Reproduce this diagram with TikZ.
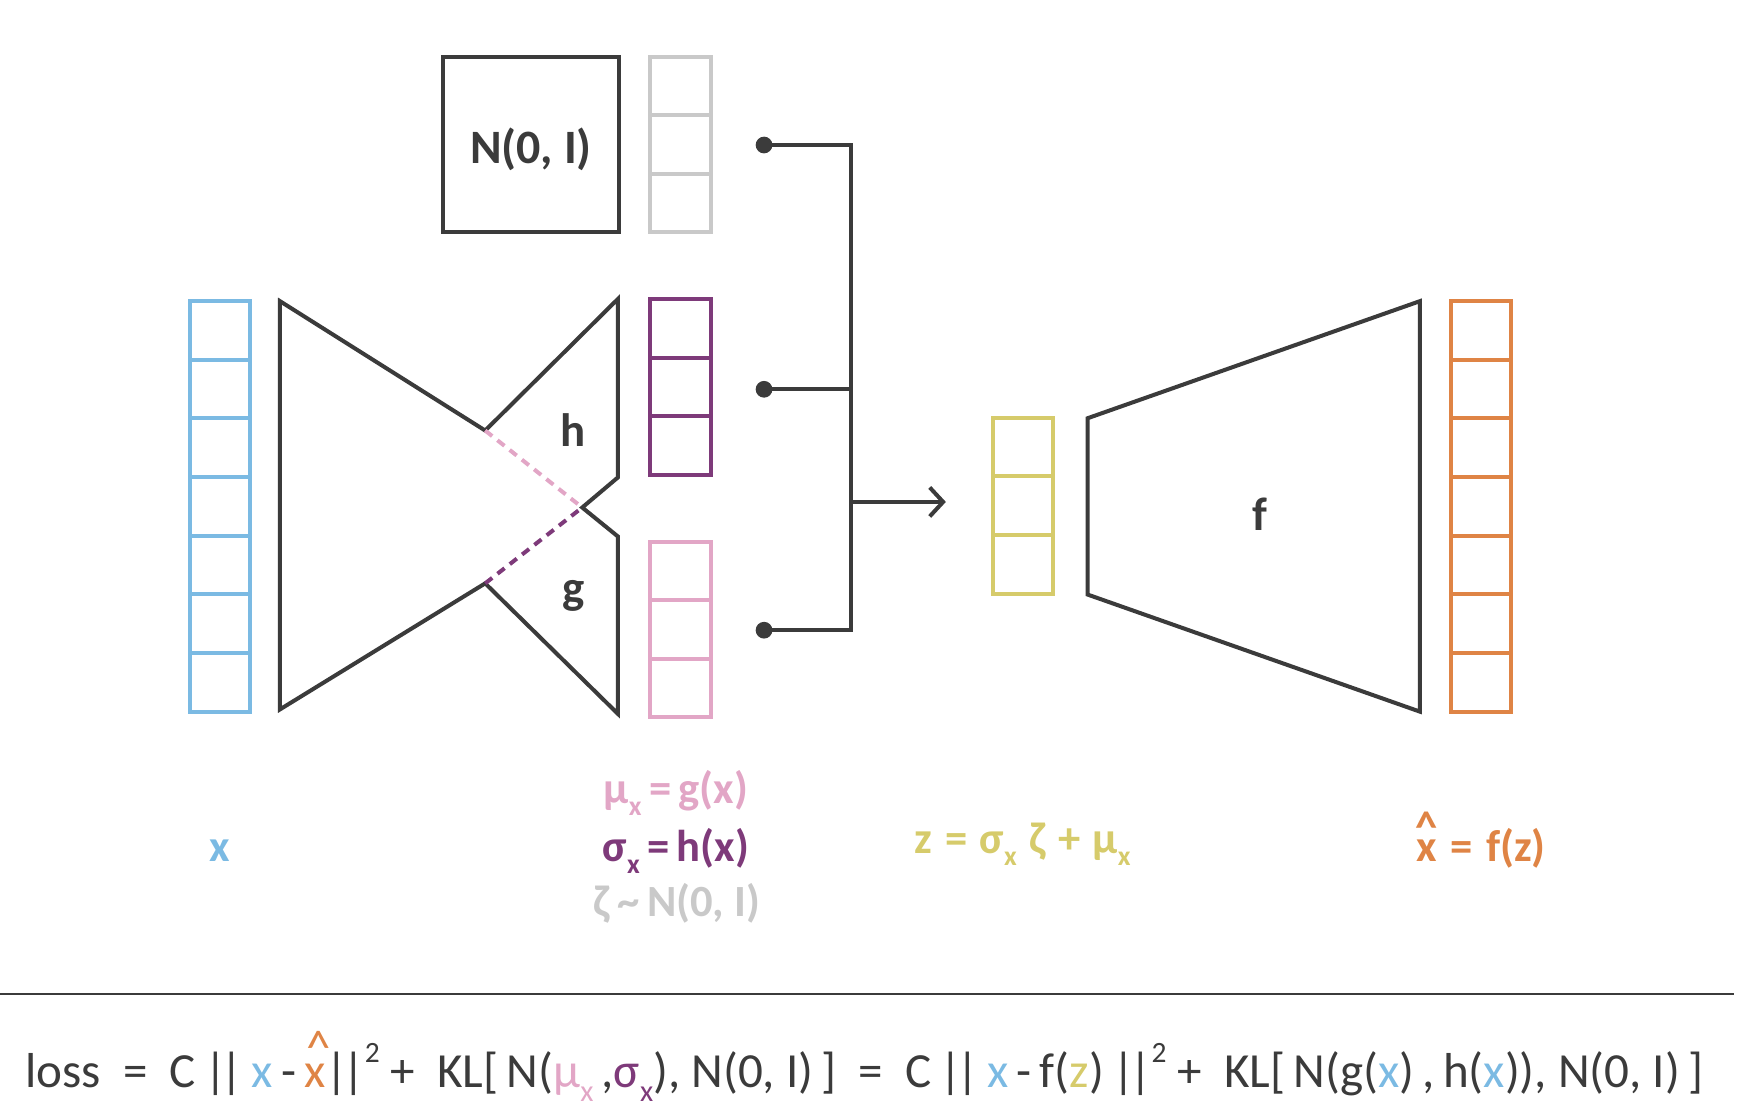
\documentclass[tikz,border=0pt]{standalone}
\usepackage{fontspec}
\setmainfont{Carlito}
\usetikzlibrary{arrows.meta,calc}
\definecolor{cdark}{HTML}{3B3B3B}
\definecolor{cblue}{HTML}{7BBAE3}
\definecolor{cpurple}{HTML}{7E3A7A}
\definecolor{cpink}{HTML}{E2A6C6}
\definecolor{cgray}{HTML}{C9C9C9}
\definecolor{cyellow}{HTML}{D6CB6B}
\definecolor{corange}{HTML}{DF8445}
\newcommand\subx{\raisebox{-0.28em}{\scalebox{0.62}{x}}}
\newcommand\xhat{\ooalign{x\cr\hidewidth\raisebox{0.42em}{\textasciicircum}\hidewidth\cr}}
\newcommand\xhatL{\ooalign{x\cr\hidewidth\kern0.15em\raisebox{0.47em}{\textasciicircum}\hidewidth\cr}}
\newcommand\sqr{\raisebox{0.5em}{\scalebox{0.6}{2}}}
\newcommand\dbar{|\kern-0.12em|}
\newcommand\celllines[4]{%
  \foreach \k in {1,...,#2}{%
    \draw[draw=#4, line width=3.6pt]
      ($(#1.north west)!\k/#3!(#1.south west)$) -- ($(#1.north east)!\k/#3!(#1.south east)$);}}
\begin{document}
\begin{tikzpicture}[x=1pt,y=-1pt,
  shape line/.style={draw=cdark, line width=3.6pt, line join=miter},
  conn/.style={draw=cdark, line width=3.6pt},
  col/.style={rectangle, line width=3.6pt, minimum width=54pt, inner sep=0pt, outer sep=0pt},
  lab/.style={font=\fontsize{40}{44}\selectfont\bfseries, inner sep=0pt, anchor=base},
  inlab/.style={font=\fontsize{42}{46}\selectfont\bfseries, text=cdark, inner sep=0pt, anchor=base},
  dot/.style={fill=cdark}]
\useasboundingbox (0,0) rectangle (1560,1002.3);

% columns of cells
\node[col, draw=cblue,   minimum height=368pt] (xcol)   at (197.5,454) {};
\node[col, draw=cgray,   minimum height=157pt] (ncol)   at (610,129.5) {};
\node[col, draw=cpurple, minimum height=158pt] (sigcol) at (610,347) {};
\node[col, draw=cpink,   minimum height=157pt] (mucol)  at (610,564.5) {};
\node[col, draw=cyellow, minimum height=158pt] (zcol)   at (917,453.5) {};
\node[col, draw=corange, minimum height=368pt] (xhcol)  at (1328,454) {};
\celllines{xcol}{6}{7}{cblue}
\celllines{ncol}{2}{3}{cgray}
\celllines{sigcol}{2}{3}{cpurple}
\celllines{mucol}{2}{3}{cpink}
\celllines{zcol}{2}{3}{cyellow}
\celllines{xhcol}{6}{7}{corange}

% N(0,I) box
\node[draw=cdark, line width=3.6pt, minimum width=158pt, minimum height=157pt, inner sep=0pt,
      text height=36pt, text depth=1.8pt,
      font=\fontsize{43}{46}\selectfont\bfseries, text=cdark] (nbox) at (476,129.5) {N(0, I)};

% encoder
\coordinate (ein1) at (435,386);
\coordinate (notch) at (522,455);
\coordinate (ein2) at (435,523);
\draw[shape line] (251,270) -- (ein1) -- (554,268) -- (554,428) -- (notch) -- (554,481)
   -- (554,640) -- (ein2) -- (251,636) -- cycle;
\draw[draw=cpink, line width=3.6pt, dash pattern=on 8pt off 6pt] (ein1) -- (notch);
\draw[draw=cpurple, line width=3.6pt, dash pattern=on 8pt off 6pt] (ein2) -- (notch);
\node[inlab] (hlab) at (514,400.5) {h};
\node[inlab] (glab) at (514,541) {g};

% decoder
\draw[shape line] (975,375) -- (1273,270) -- (1273,638) -- (975,533) -- cycle;
\node[inlab] (flab) at (1130,475.6) {f};

% connectors
\coordinate (d1) at (685,130);
\coordinate (d2) at (685,349);
\coordinate (d3) at (685,565);
\coordinate (j1) at (763,130);
\coordinate (j2) at (763,349);
\coordinate (j3) at (763,565);
\coordinate (ja) at (763,450);
\coordinate (za) at (848,450);
\draw[conn] (d1) -- (j1) -- (j3) -- (d3);
\draw[conn] (d2) -- (j2);
\draw[conn, -{Straight Barb[length=12pt,width=26pt,line width=3.6pt]}] (ja) -- (za);
\fill[dot] (d1) circle[radius=7.5];
\fill[dot] (d2) circle[radius=7.5];
\fill[dot] (d3) circle[radius=7.5];

% labels
\node[lab, text=cpink]   (mulab)   at (606,720) {μ\subx\,=\,g(x)};
\node[lab, text=cpurple] (siglab)  at (606,772) {σ\subx\,=\,h(x)};
\node[lab, text=cgray]   (zetalab) at (607,822) {ζ\,\textasciitilde\,N(0, I)};
\node[lab, text=cyellow] (zlab)    at (917,765) {z\hspace{0.28em}=\hspace{0.28em}σ\subx\hspace{0.28em}ζ\hspace{0.28em}+\hspace{0.28em}μ\subx};
\node[lab, text=cblue]   (xlab)    at (197,772) {x};
\node[lab, text=corange] (xhlab)   at (1328,772) {\xhat\hspace{0.3em}=\hspace{0.3em}f(z)};

% rule
\coordinate (r1) at (0,891);
\coordinate (r2) at (1555,891);
\draw[draw=cdark, line width=2pt] (r1) -- (r2);

% loss
\node[font=\fontsize{44}{48}\selectfont, text=cdark, anchor=base, inner sep=0pt] (loss) at (775,975)
{loss\ \ =\ \ C\,\dbar\,\textcolor{cblue}{x}\,-\,\textcolor{corange}{\xhatL}\dbar\sqr\ +\ \ KL[\,N(\textcolor{cpink}{μ\subx}\,,\textcolor{cpurple}{σ\subx}), N(0, I)\,]\ \ =\ \ C\,\dbar\,\textcolor{cblue}{x}\,-\,f(\textcolor{cyellow}{z})\,\dbar\sqr\ +\ \ KL[\,N(g(\textcolor{cblue}{x})\,,\,h(\textcolor{cblue}{x})), N(0, I)\,]};
\end{tikzpicture}
\end{document}
